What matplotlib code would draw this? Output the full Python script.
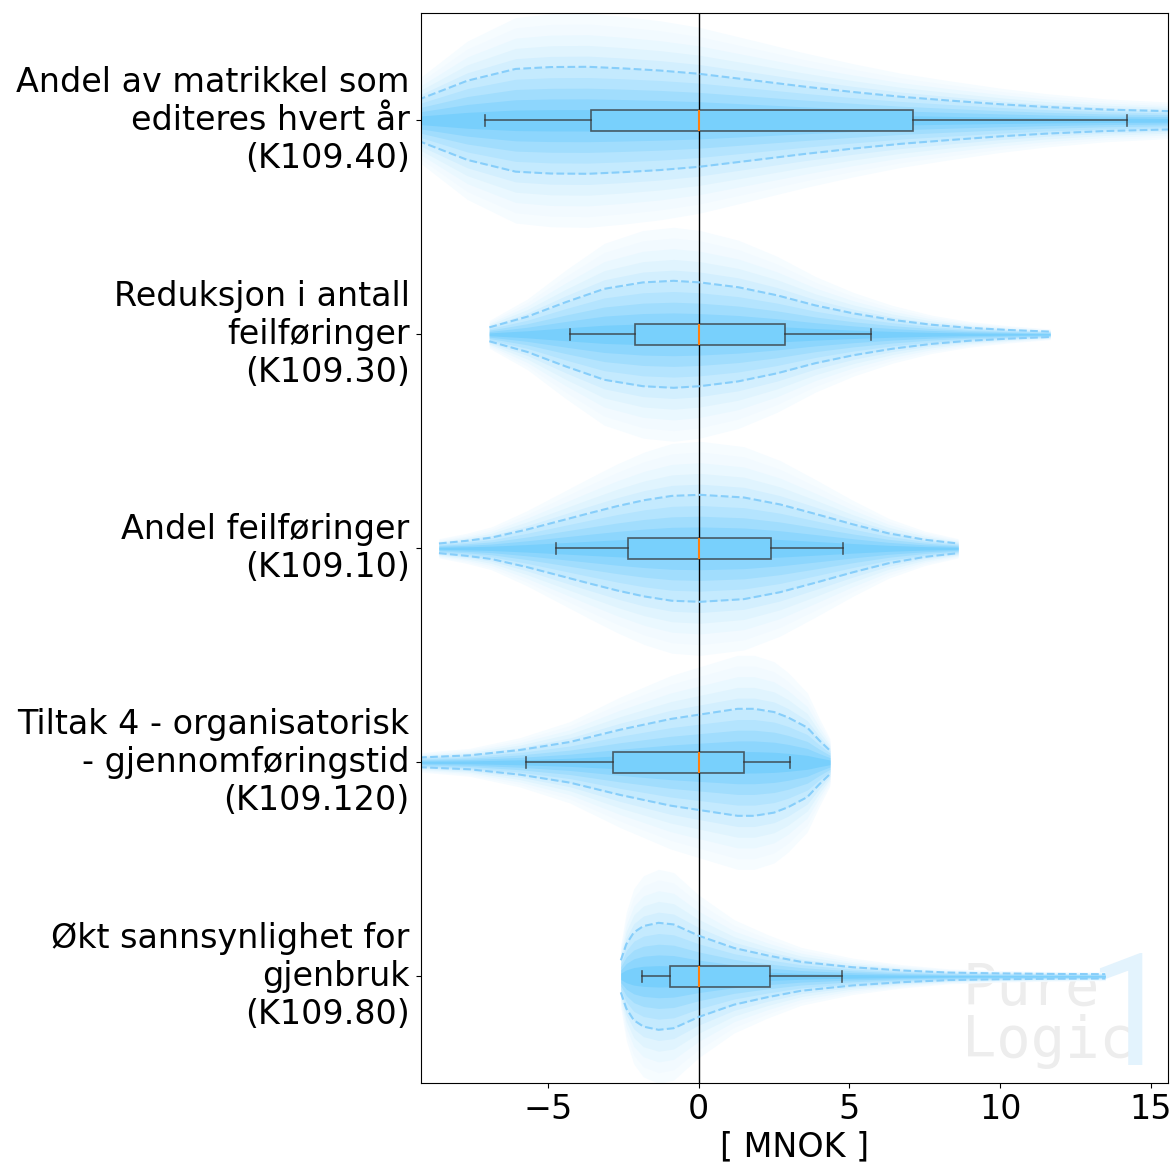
import matplotlib
matplotlib.use('Agg')
import matplotlib.pyplot as plt

# y tick labels, top to bottom
labels = [
    "Andel av matrikkel som\nediteres hvert år\n(K109.40)",
    "Reduksjon i antall\nfeilføringer\n(K109.30)",
    "Andel feilføringer\n(K109.10)",
    "Tiltak 4 - organisatorisk\n- gjennomføringstid\n(K109.120)",
    "Økt sannsynlighet for\ngjenbruk\n(K109.80)",
]

# box statistics [MNOK], same order
whislo = [-7.08, -4.25, -4.72, -5.73, -1.89]
q1 = [-3.56, -2.12, -2.35, -2.84, -0.95]
med = [0.0, 0.0, 0.0, 0.0, 0.0]
q3 = [7.10, 2.85, 2.40, 1.50, 2.38]
whishi = [14.20, 5.72, 4.78, 3.03, 4.75]

# density outline: x [MNOK] and relative half width
kde_x_40 = [-10.0, -9.27, -7.67, -6.07, -4.9, -3.67, -2.5, -1.28, 0.0, 1.91, 3.5,
            5.10, 6.7, 8.29, 10.0, 11.49, 13.5, 15.64, 16.5]
kde_w_40 = [0.25, 0.39, 0.74, 0.96, 0.995, 1.0, 0.97, 0.93, 0.87, 0.74, 0.63,
            0.53, 0.44, 0.37, 0.30, 0.25, 0.20, 0.17, 0.16]

kde_x_30 = [-6.94, -5.68, -4.41, -3.13, -1.85, -0.83, 0.04, 1.31, 2.59, 3.87,
            5.14, 6.42, 7.70, 8.97, 10.3, 11.65]
kde_w_30 = [0.13, 0.33, 0.60, 0.85, 0.97, 1.0, 0.97, 0.88, 0.73, 0.54,
            0.39, 0.27, 0.18, 0.12, 0.08, 0.05]

kde_x_10 = [-8.61, -7.7, -6.87, -5.7, -4.48, -3.6, -2.69, -1.8, -0.89, 0.05,
            1.5, 2.7, 3.89, 5.1, 6.29, 7.5, 8.6]
kde_w_10 = [0.09, 0.14, 0.20, 0.35, 0.53, 0.66, 0.79, 0.90, 0.98, 1.0,
            0.95, 0.82, 0.64, 0.45, 0.28, 0.16, 0.09]

kde_x_120 = [-10.0, -9.27, -7.6, -5.93, -4.27, -2.6, -0.93, 0.0, 1.29, 1.84,
             2.5, 2.96, 3.6, 4.0, 4.35]
kde_w_120 = [0.07, 0.09, 0.13, 0.23, 0.38, 0.61, 0.81, 0.89, 1.0, 1.0,
             0.94, 0.84, 0.65, 0.41, 0.22]

kde_x_80 = [-2.58, -2.4, -2.15, -1.83, -1.33, -0.83, 0.0, 1.17, 2.28, 3.4,
            5.1, 6.7, 8.29, 9.89, 11.7, 13.48]
kde_w_80 = [0.30, 0.60, 0.82, 0.94, 1.0, 0.97, 0.76, 0.53, 0.39, 0.27,
            0.17, 0.11, 0.07, 0.055, 0.045, 0.04]

kde_x = [kde_x_40, kde_x_30, kde_x_10, kde_x_120, kde_x_80]
kde_w = [kde_w_40, kde_w_30, kde_w_10, kde_w_120, kde_w_80]

n = len(labels)
positions = list(range(n, 0, -1))

fig = plt.figure(figsize=(11.74, 11.66), dpi=100, facecolor='w')
ax = fig.add_axes([0.359, 0.0709, 0.6359, 0.9177])

nlayers = 10
outer = 0.5
base = (0.47, 0.81, 0.99)
for xs, ws, pos in zip(kde_x, kde_w, positions):
    # widest / lightest band first, narrower and darker on top
    for k in range(nlayers, 0, -1):
        s = outer * k / nlayers
        t = 0.07 + 0.93 * ((nlayers - k) / (nlayers - 1)) ** 1.6
        col = tuple(1 - t * (1 - c) for c in base)
        lo = [pos - s * w for w in ws]
        hi = [pos + s * w for w in ws]
        ax.fill_between(xs, lo, hi, color=col, lw=0, zorder=1)
    lo = [pos - outer / 2 * w for w in ws]
    hi = [pos + outer / 2 * w for w in ws]
    ax.plot(xs, hi, '--', color='#87cefa', lw=1.5, zorder=2)
    ax.plot(xs, lo, '--', color='#87cefa', lw=1.5, zorder=2)

ax.axvline(0, color='k', lw=1, zorder=1.5)

stats = []
for i in range(n):
    stats.append(dict(whislo=whislo[i], q1=q1[i], med=med[i], q3=q3[i],
                      whishi=whishi[i], fliers=[]))

edge = (0.2, 0.2, 0.2, 0.75)
ax.bxp(stats, positions=positions, widths=0.1, orientation='horizontal',
       patch_artist=True, showfliers=False, manage_ticks=False, zorder=3,
       boxprops=dict(facecolor='#78d0fc', edgecolor=edge, lw=1.2),
       whiskerprops=dict(color=edge, lw=1.2),
       capprops=dict(color=edge, lw=1.2),
       medianprops=dict(color='#ff7f0e', lw=1.5))

ax.set_xlim(-9.19, 15.56)
ax.set_ylim(0.5, n + 0.5)
ax.set_yticks(positions)
ax.set_yticklabels(labels, fontsize=24)
for lab in ax.get_yticklabels():
    lab.set_va('center')
ax.set_xticks([-5, 0, 5, 10, 15])
ax.tick_params(axis='x', labelsize=24)
ax.tick_params(axis='y', pad=5)
ax.set_xlabel('[ MNOK ]', fontsize=24, labelpad=3)

# watermark
ax.text(962 / 1174, 1 - 1005 / 1166, 'Pure', transform=fig.transFigure,
        family='DejaVu Sans Mono', fontsize=41, color='#ededed',
        ha='left', va='baseline', zorder=0.5)
ax.text(962 / 1174, 1 - 1057 / 1166, 'Logic', transform=fig.transFigure,
        family='DejaVu Sans Mono', fontsize=41, color='#ededed',
        ha='left', va='baseline', zorder=0.5)
ax.text(1173 / 1174, 1 - 1065 / 1166, '1', transform=fig.transFigure,
        family='Roboto', fontsize=112, color='#e3f3fd',
        ha='right', va='baseline', zorder=0.5)

fig.savefig('out.png', dpi=100, facecolor='w')
